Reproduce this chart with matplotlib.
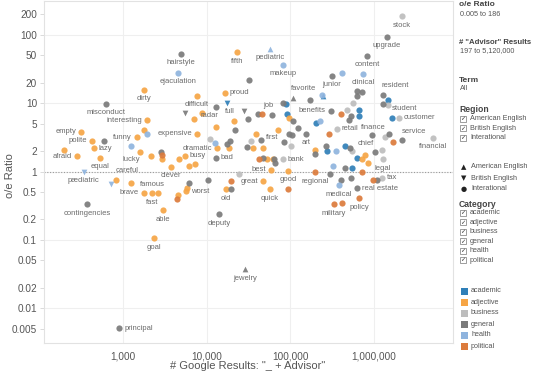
import numpy as np
import matplotlib
matplotlib.use('Agg')
import matplotlib.pyplot as plt
from matplotlib.patches import Rectangle

plt.rcParams['font.family'] = ['Liberation Sans', 'DejaVu Sans']

# ─── Data: one set of small lists per category
# google = # Google results, ratio = o/e ratio, region: am / br / int

academic_google = [17500, 88600, 91000, 1467000, 660000, 660000, 245000, 1638000,
                   202000, 625000, 449000, 274000, 545000]
academic_ratio = [10.2, 9.8, 7.0, 11.2, 8.0, 6.6, 12.9, 6.1, 5.2, 1.6, 2.4, 2.0, 1.14]
academic_region = ['br', 'int', 'int', 'int', 'int', 'int', 'am', 'int',
                   'int', 'int', 'int', 'int', 'int']
academic_word = ['full', '', '', '', '', '', '', '', '', '', '', '', '']

adjective_google = [23000, 1780, 1940, 315, 430, 450, 280, 197, 530, 1470, 1780, 1600,
                    2160, 2920, 3750, 4670, 5500, 6150, 7250, 825, 1250, 1780, 2220,
                    2620, 3000, 2340, 4540, 5660, 5820, 17000, 7660, 16500, 8790, 7050,
                    21200, 96200, 7660, 12900, 13300, 18500, 35800, 38800, 47100, 52500,
                    58600, 47100, 93600, 57000, 71100, 62000, 779000, 717000, 197000,
                    846000]
adjective_ratio = [56, 15.7, 5.6, 3.8, 2.8, 2.2, 1.66, 2.1, 1.6, 3.2, 4.1, 1.96,
                   1.66, 1.55, 1.18, 1.5, 1.71, 1.22, 1.27, 0.76, 0.67, 0.49, 0.48,
                   0.48, 0.27, 0.105, 0.45, 0.51, 0.58, 0.55, 12.9, 14.2, 7.3, 5.9,
                   5.4, 6.1, 3.6, 4.5, 2.2, 2.2, 2.2, 3.5, 2.2, 1.55,
                   1.07, 0.715, 1.03, 0.546, 4.1, 1.5, 1.77, 1.5, 2.1,
                   1.35]
adjective_region = ['int'] * len(adjective_google)
adjective_word = ['fifth', 'dirty', 'interesting', 'empty', 'polite', 'lazy', 'afraid', '',
                  'equal', 'funny', '', '', '', '', 'clever', '', 'busy', '', '', 'careful',
                  'famous', 'brave', 'fast', '', 'able', 'goal', '', 'worst', '', 'old',
                  'difficult', 'proud', '', '', '', '', 'expensive', '', 'dramatic', '', '',
                  '', '', '', 'best', 'great', 'good', 'quick', 'first', '', 'chief', '',
                  '', '']

business_google = [10950, 33800, 81600, 24300, 101600, 2150000, 1467000, 560000, 474000,
                   1987000, 360000, 1350000, 5120000, 1243000, 1278000, 545000, 1243000]
business_ratio = [3.0, 2.8, 1.5, 0.935, 2.4, 186, 9.5, 10.2, 8.0,
                  6.1, 4.2, 3.2, 3.1, 2.1, 1.5, 2.0, 0.817]
business_region = ['int'] * len(business_google)
business_word = ['', '', 'bank', '', '', 'stock', 'student', '', '',
                 'customer', 'retail', '', 'financial', '', 'legal', '', 'tax']

general_google = [4900, 630, 590, 2840, 370, 900, 6150, 10400, 19500, 14000, 28700,
                  5500, 12900, 31200, 27900, 32000, 41000, 60300, 81600, 107000, 17500,
                  19000, 21800, 30300, 44600, 12900, 63700, 96200, 83900, 104400, 47100,
                  65400, 1430000, 823000, 314000, 1278000, 1278000, 625000, 717000,
                  625000, 530000, 501000, 305000, 171500, 107000, 154000, 123000, 944000,
                  1508000, 2155000, 1025000, 515000, 266000, 197000, 297000, 449000,
                  530000, 402000, 625000, 1084000]
general_ratio = [53, 9.8, 2.8, 1.96, 0.33, 0.0051, 0.67, 0.74, 0.55, 0.236, 0.037,
                 7.3, 8.9, 5.9, 7.8, 22, 7.0, 6.8, 10.2, 5.4, 2.5,
                 2.8, 4.1, 2.3, 2.9, 1.6, 1.5, 3.6, 2.7, 3.4, 1.58,
                 1.35, 93.5, 49.4, 25.2, 13.3, 9.8, 15.2, 14.7,
                 12.9, 6.6, 5.6, 7.8, 11.2, 12.0, 3.6, 4.4, 3.4,
                 3.6, 2.9, 1.9, 2.2, 2.4, 1.83, 0.935, 1.14,
                 0.817, 0.764, 0.565, 0.764]
general_region = ['int'] * len(general_google)
general_region[10] = 'am'
general_region[11] = 'br'
general_region[14] = 'br'
general_region[44] = 'am'
general_word = ['hairstyle', 'misconduct', '', '', 'contingencies', 'principal', '', '', '',
                'deputy', 'jewelry', '', 'radar', '', '', '', '', 'job', '', '', '',
                '', '', '', '', 'bad', '', '', '', '', '',
                '', 'upgrade', 'content', 'junior', 'resident', '', '', '',
                '', '', '', 'benefits', 'favorite', '', 'art', '', 'finance',
                '', 'service', '', '', '', '', '', '',
                '', '', 'real estate', '']

health_google = [4500, 340, 1940, 1250, 720, 12550, 57000, 81600, 413000, 737000,
                 239000, 226000, 350000, 323000, 381000]
health_ratio = [28, 0.99, 3.5, 2.4, 0.65, 2.65, 62.5, 36.5, 28, 27,
                13.3, 5.4, 2.0, 1.22, 0.625]
health_region = ['int', 'br', 'int', 'int', 'br', 'int', 'am', 'int', 'int', 'int',
                 'int', 'int', 'int', 'int', 'int']
health_word = ['ejaculation', 'pædiatric', '', 'lucky', '', '', 'pediatric', 'makeup', '',
               'clinical', '', '', '', '', 'medical']

political_google = [2920, 4420, 19500, 45800, 42200, 93600, 402000, 289000, 1684000,
                    717000, 970000, 197000, 332000, 413000, 660000]
political_ratio = [1.77, 0.39, 0.72, 7.0, 1.55, 0.546, 7.0, 3.5, 2.7,
                   1.0, 0.764, 0.97, 0.33, 0.341, 0.404]
political_region = ['int'] * len(political_google)
political_word = ['', '', '', '', '', '', '', '', '', '', '', 'regional', 'military', '',
                  'policy']

categories = ['academic', 'adjective', 'business', 'general', 'health', 'political']
colors = {'academic': '#2f7fb8', 'adjective': '#f6a545', 'business': '#bdbdbd',
          'general': '#7b7b7b', 'health': '#8fb4de', 'political': '#dc7b3c'}
markers = {'am': '^', 'br': 'v', 'int': 'o'}

series = {
    'academic': (academic_google, academic_ratio, academic_region, academic_word),
    'adjective': (adjective_google, adjective_ratio, adjective_region, adjective_word),
    'business': (business_google, business_ratio, business_region, business_word),
    'general': (general_google, general_ratio, general_region, general_word),
    'health': (health_google, health_ratio, health_region, health_word),
    'political': (political_google, political_ratio, political_region, political_word),
}

y_ticks = [0.005, 0.01, 0.02, 0.05, 0.1, 0.2, 0.5, 1, 2, 5, 10, 20, 50, 100, 200]
y_tick_labels = ['0.005', '0.01', '0.02', '0.05', '0.1', '0.2', '0.5', '1', '2', '5',
                 '10', '20', '50', '100', '200']
x_ticks = [1000, 10000, 100000, 1000000]
x_tick_labels = ['1,000', '10,000', '100,000', '1,000,000']

# label placement (pixels offset from the mark)
LEFT = (-5, 0, 'right')
RIGHT = (5, 0, 'left')
BELOW = (0, -9, 'center')
label_pos = {w: LEFT for w in ['interesting', 'empty', 'polite', 'afraid', 'funny',
                               'expensive', 'dramatic', 'best', 'great', 'brave',
                               'benefits']}
label_pos.update({w: RIGHT for w in ['lazy', 'busy', 'bad', 'proud', 'bank', 'worst',
                                     'principal', 'customer', 'retail', 'tax',
                                     'real estate']})
label_pos.update({'lucky': (0, -14, 'center'), 'careful': (11, 9, 'center'),
                  'famous': (9, -1, 'left'), 'job': (-4, 9, 'center'),
                  'first': (-6, -8, 'center'), 'resident': (12, 9, 'center'),
                  'student': (4, -4, 'left'), 'favorite': (-6, 11, 'center'),
                  'finance': (1, 8, 'center'), 'service': (12, 8, 'center'),
                  'chief': (1, 11, 'center'), 'radar': (-6, -9, 'center'),
                  'full': (3, -9, 'center')})

W, H = 540, 375
fig = plt.figure(figsize=(W / 100, H / 100), dpi=100)
ax = fig.add_axes([44 / W, 1 - 343 / H, (453 - 44) / W, 342 / H])

ax.set_xscale('log')
ax.set_yscale('log')
ax.set_xlim(10 ** 2.056, 10 ** 6.944)
ax.set_ylim(10 ** -2.51, 10 ** 2.496)

for y in [0.01, 0.1, 1, 10, 100]:
    ax.axhline(y, color='#efefef', lw=0.8, zorder=0)
for x in x_ticks:
    ax.axvline(x, color='#efefef', lw=0.8, zorder=0)
ax.axhline(1, color='#9a9a9a', lw=0.8, ls=(0, (1, 1.5)), zorder=1)

for cat in categories:
    gx, oe, reg, words = series[cat]
    gx = np.array(gx, dtype=float)
    oe = np.array(oe, dtype=float)
    reg = np.array(reg)
    for r, m in markers.items():
        sel = reg == r
        if sel.any():
            ax.scatter(gx[sel], oe[sel], s=20 if m == 'o' else 17, marker=m,
                       color=colors[cat], alpha=0.92, linewidths=0, zorder=3)
    for xv, yv, w in zip(gx, oe, words):
        if not w:
            continue
        dx, dy, ha = label_pos.get(w, BELOW)
        ax.annotate(w, (xv, yv), xytext=(dx, dy), textcoords='offset pixels',
                    ha=ha, va='center', fontsize=5.5, color='#6a6a6a', zorder=4)

ax.set_yticks(y_ticks)
ax.set_yticklabels(y_tick_labels)
ax.set_xticks(x_ticks)
ax.set_xticklabels(x_tick_labels)
ax.minorticks_off()
ax.tick_params(axis='y', length=3, width=0.5, color='#cccccc', labelsize=7.2,
               labelcolor='#555555', pad=2)
ax.tick_params(axis='x', length=0, labelsize=7.2, labelcolor='#555555', pad=6)
for s in ax.spines.values():
    s.set_color('#e2e2e2')
    s.set_linewidth(0.8)

ax.set_xlabel('# Google Results: "_ + Advisor"', fontsize=8, color='#555555')
ax.set_ylabel('o/e Ratio', fontsize=8, color='#555555')
ax.xaxis.set_label_coords(0.499, -0.052)
ax.yaxis.set_label_coords(-0.071, 0.49)


# ─── Right-hand panel (filters and legends)
#
def px(x, y):
    return x / W, 1 - y / H


def panel_text(x, y, s, bold=False, size=5.2, color='#555555'):
    fig.text(*px(x, y), s, fontsize=size, color=color, va='center', ha='left',
             fontweight='bold' if bold else 'normal')


def checkbox(x, y, s):
    bx, by = px(x, y + 3)
    fig.add_artist(Rectangle((bx, by), 6 / W, 6 / H, transform=fig.transFigure,
                             fill=False, ec='#777777', lw=0.5))
    fig.text(*px(x + 3, y), '✓', fontsize=4.5, color='#333333', ha='center', va='center',
             family='DejaVu Sans')
    panel_text(x + 10, y, s)


panel_text(459, 5, 'o/e Ratio', bold=True, size=6, color='#444444')
panel_text(460, 14, '0.005 to 186')
panel_text(459, 42, '# "Advisor" Results', bold=True, size=5.6, color='#444444')
panel_text(460, 51, '197 to 5,120,000')
panel_text(459, 80, 'Term', bold=True, size=6, color='#444444')
panel_text(460, 89, 'All')

panel_text(459, 109, 'Region', bold=True, size=6.2, color='#444444')
for i, s in enumerate(['American English', 'British English', 'Interational']):
    checkbox(460, 119 + i * 9.3, s)

for i, (m, s) in enumerate([('▲', 'American English'), ('▼', 'British English'),
                            ('●', 'Interational')]):
    fig.text(*px(464, 167 + i * 11), m, fontsize=5, color='#222222', ha='center',
             va='center', family='DejaVu Sans')
    panel_text(471, 167 + i * 11, s)

panel_text(459, 204, 'Category', bold=True, size=6.2, color='#444444')
for i, cat in enumerate(categories):
    checkbox(460, 213 + i * 9.4, cat)

for i, cat in enumerate(categories):
    y = 291 + i * 11
    bx, by = px(461, y + 3.5)
    fig.add_artist(Rectangle((bx, by), 7 / W, 7 / H, transform=fig.transFigure,
                             color=colors[cat], lw=0))
    panel_text(471, y, cat)

plt.savefig('out.png', dpi=100)
